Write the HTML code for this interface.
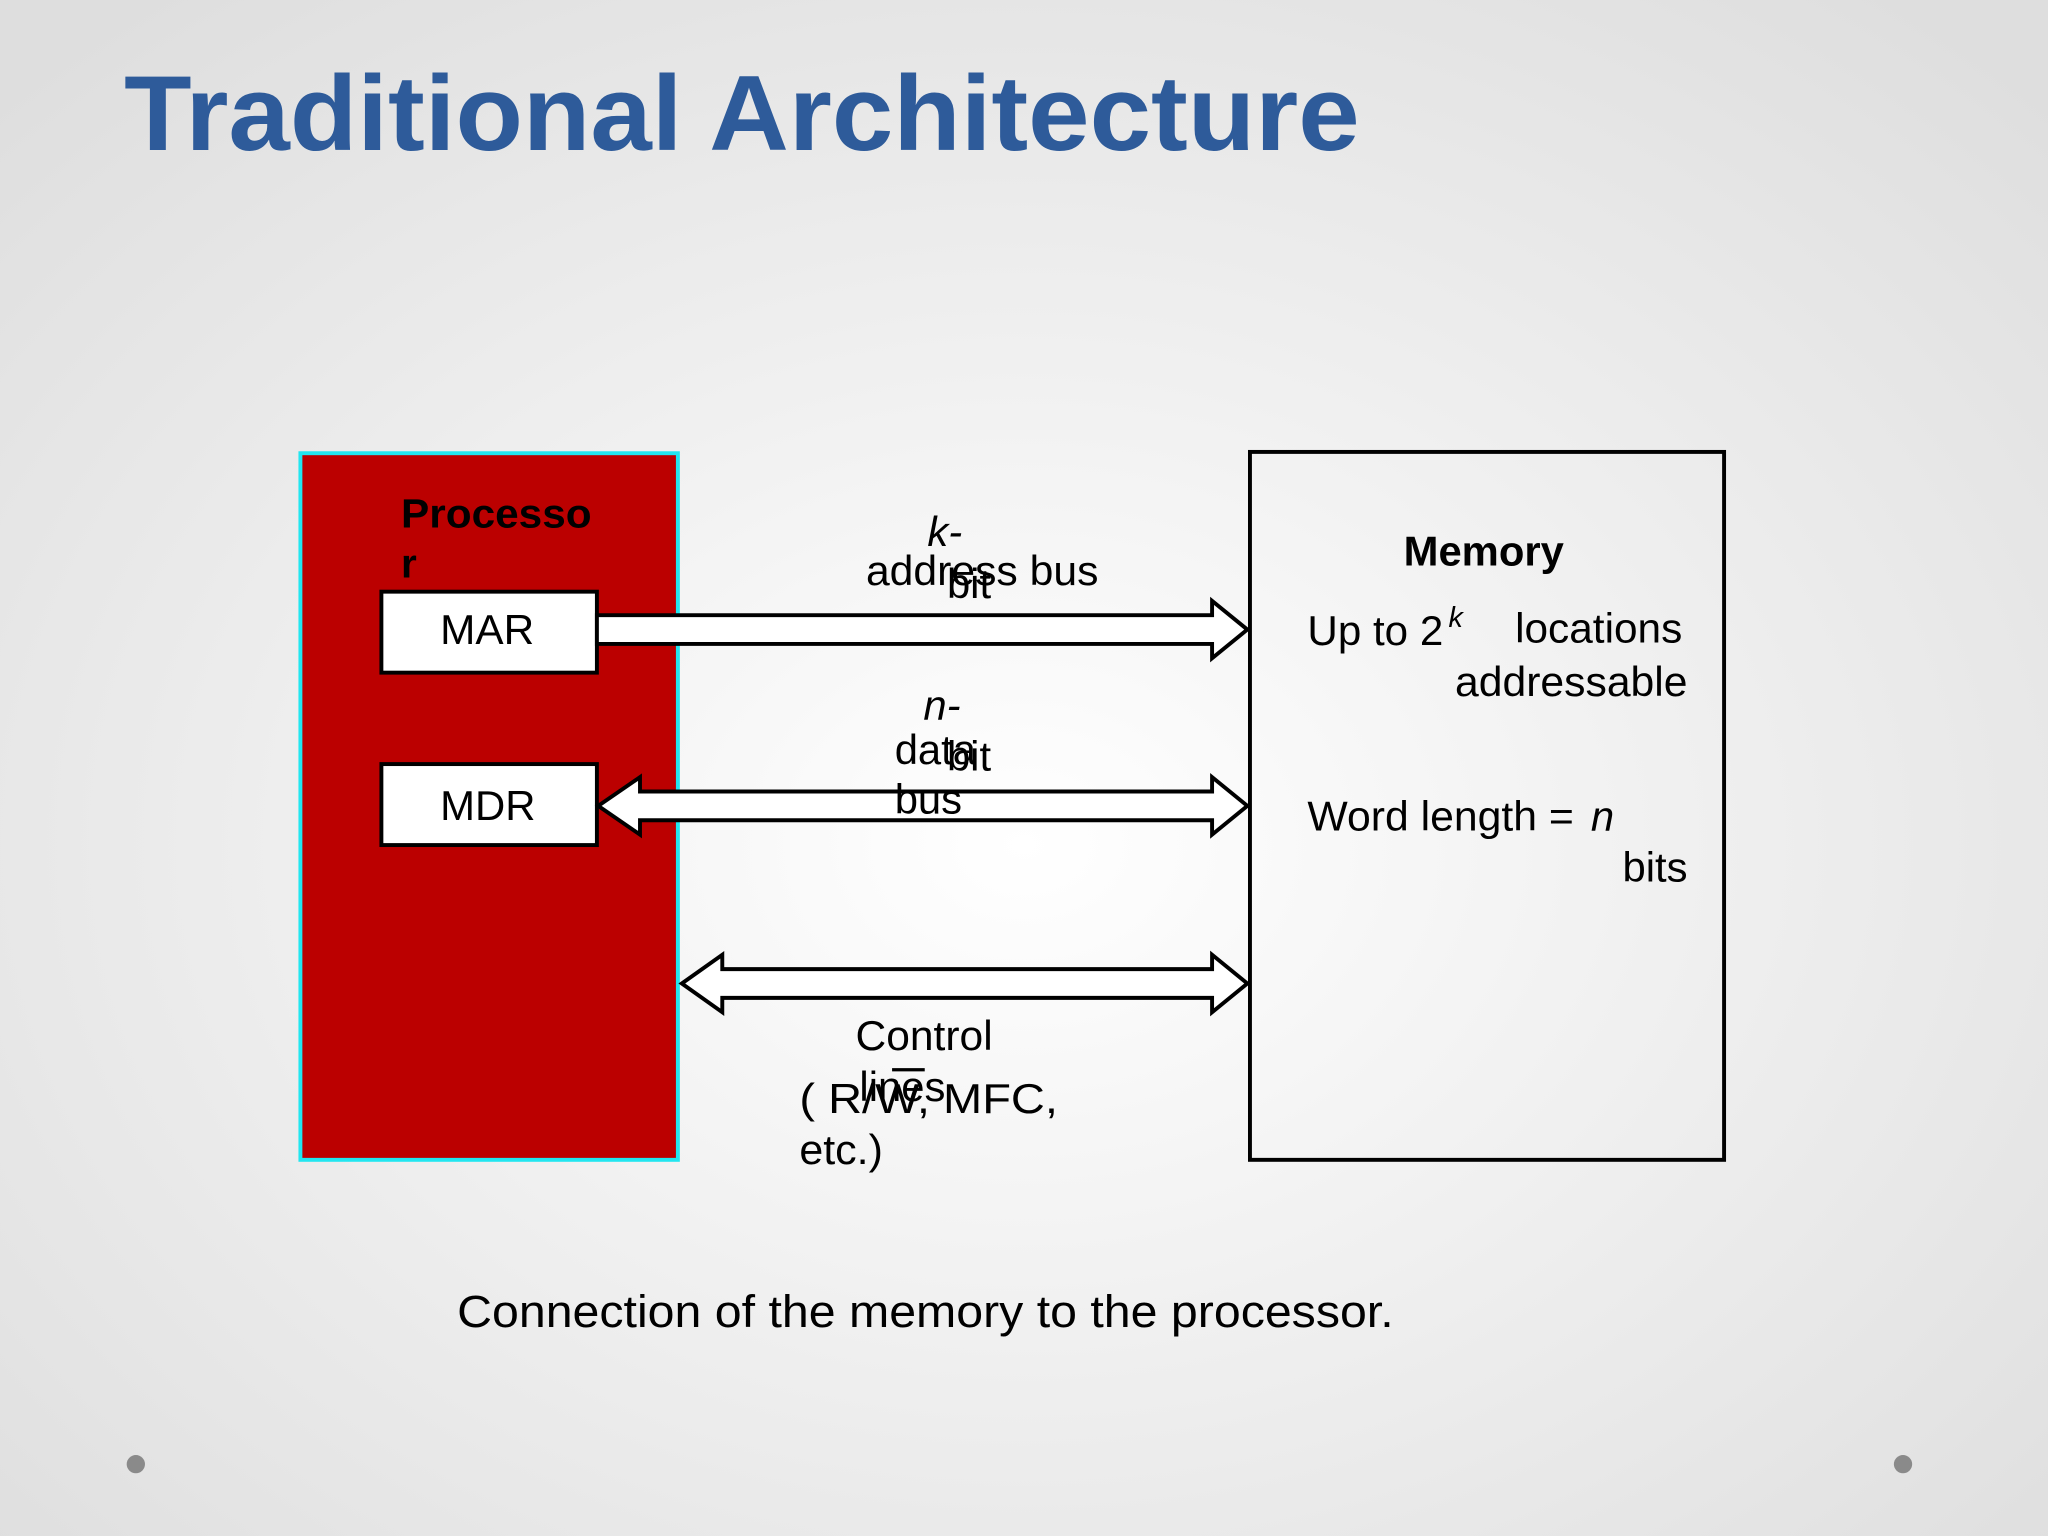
<!DOCTYPE html>
<html><head><meta charset="utf-8"><style>
html,body{margin:0;padding:0;width:2048px;height:1536px;overflow:hidden}
svg{display:block}
text{font-family:"Liberation Sans",Arial,sans-serif}
</style></head><body>
<svg width="2048" height="1536" viewBox="0 0 1568 1176" xmlns="http://www.w3.org/2000/svg">
<defs>
<radialGradient id="bg" cx="50%" cy="55%" r="70%">
<stop offset="0" stop-color="#ffffff"/><stop offset="1" stop-color="#dedede"/>
</radialGradient>
</defs>
<rect width="1568" height="1176" fill="url(#bg)"/>
<text x="95" y="115" font-size="82" font-weight="bold" fill="#2e5b9a" textLength="946" lengthAdjust="spacingAndGlyphs">Traditional Architecture</text>

<rect x="230" y="347" width="289" height="541" fill="#bb0000" stroke="#22e6f0" stroke-width="3"/>
<text x="307" y="404" font-size="31" font-weight="bold" fill="#000" textLength="146" lengthAdjust="spacingAndGlyphs">Processo</text>
<text x="307" y="442" font-size="31" font-weight="bold" fill="#000">r</text>
<rect x="292" y="453" width="165" height="62" fill="#fff" stroke="#000" stroke-width="3"/>
<text x="337" y="493" font-size="32" textLength="72" lengthAdjust="spacingAndGlyphs">MAR</text>
<rect x="292" y="585" width="165" height="62" fill="#fff" stroke="#000" stroke-width="3"/>
<text x="337" y="628" font-size="32" textLength="73" lengthAdjust="spacingAndGlyphs">MDR</text>

<g fill="#fff" stroke="#000" stroke-width="3" stroke-linejoin="miter">
<polygon points="457,471 928,471 928,460 955,482 928,504 928,493 457,493"/>
<polygon points="458,617 490,595 490,606 928,606 928,595 955,617 928,639 928,628 490,628 490,639"/>
<polygon points="522,753 553,731 553,742 928,742 928,731 955,753 928,775 928,764 553,764 553,775"/>
</g>

<rect x="957" y="346" width="363" height="542" fill="none" stroke="#000" stroke-width="3"/>

<g font-size="32" fill="#000">
<text x="710" y="418" font-style="italic">k-</text>
<text x="663" y="448" textLength="178" lengthAdjust="spacingAndGlyphs">address bus</text>
<text x="725" y="458">bit</text>
<text x="707" y="551" font-style="italic">n-</text>
<text x="685" y="585">data</text>
<text x="725" y="590">bit</text>
<text x="685" y="623">bus</text>
<text x="655" y="804" textLength="105" lengthAdjust="spacingAndGlyphs">Control</text>
<text x="612" y="852" textLength="198" lengthAdjust="spacingAndGlyphs">( R/W, MFC,</text>
<line x1="683" y1="819" x2="708" y2="819" stroke="#000" stroke-width="2.5"/>
<text x="658" y="843">lines</text>
<text x="612" y="891" textLength="64" lengthAdjust="spacingAndGlyphs">etc.)</text>

<text x="1136" y="433" font-size="32" font-weight="bold" text-anchor="middle">Memory</text>
<text x="1001" y="494" textLength="104" lengthAdjust="spacingAndGlyphs">Up to 2</text>
<text x="1109" y="480" font-size="22" font-style="italic">k</text>
<text x="1160" y="492" textLength="128" lengthAdjust="spacingAndGlyphs">locations</text>
<text x="1114" y="533" textLength="178" lengthAdjust="spacingAndGlyphs">addressable</text>
<text x="1001" y="636" textLength="204" lengthAdjust="spacingAndGlyphs">Word length =</text>
<text x="1218" y="636" font-style="italic">n</text>
<text x="1292" y="675" text-anchor="end">bits</text>

<text x="350" y="1016" font-size="35" textLength="717" lengthAdjust="spacingAndGlyphs">Connection of the memory to the processor.</text>
</g>
<circle cx="104" cy="1121" r="7" fill="#8a8a8a"/>
<circle cx="1457" cy="1121" r="7" fill="#8a8a8a"/>
</svg>
</body></html>
